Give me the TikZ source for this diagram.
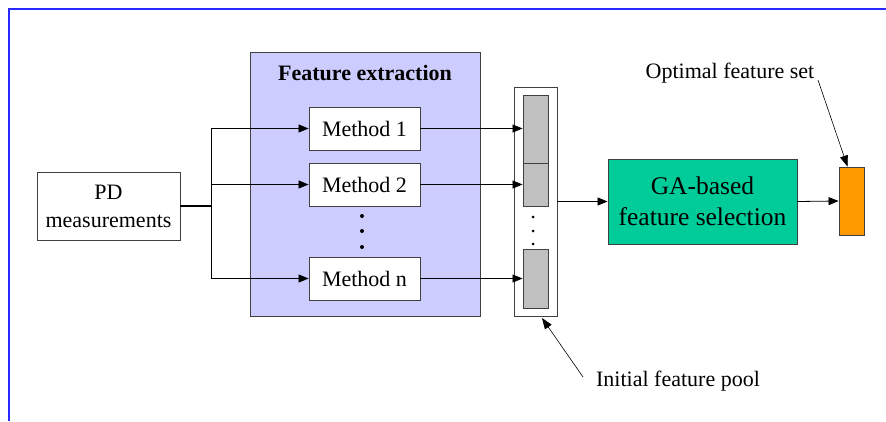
\documentclass[tikz,border=0pt]{standalone}
\usepackage{fontspec}
\setmainfont{Liberation Serif}
\usepackage{tikz}
\usetikzlibrary{arrows.meta}

\definecolor{extractfill}{RGB}{204,204,255}
\definecolor{poolgray}{RGB}{192,192,192}
\definecolor{gagreen}{RGB}{0,204,153}
\definecolor{optorange}{RGB}{255,153,0}
\definecolor{frameblue}{RGB}{40,40,255}

\tikzset{
	box/.style={draw=black!75,line width=0.9pt,inner sep=0pt,align=center},
	methodbox/.style={box,fill=white,minimum width=111pt,minimum height=43pt},
	featbar/.style={box,fill=poolgray,minimum width=25pt},
	link/.style={line width=0.8pt,-{Triangle[length=10pt,width=8pt]}},
	callout/.style={line width=0.6pt,-{Triangle[length=11pt,width=8pt]}},
	pt/.style={circle,fill=black,inner sep=0pt,minimum size=#1}
}

\begin{document}
\begin{tikzpicture}[x=1pt,y=-1pt,font=\fontsize{22}{28}\selectfont]
	\useasboundingbox (0,0) rectangle (886,421);
	\draw[frameblue,line width=2.5pt] (9,421) -- (9,9) -- (886,9);

	\node[box,fill=white,minimum width=143pt,minimum height=68pt] (pd) at (108.5,206) {PD\\measurements};

	\node[box,fill=extractfill,minimum width=230pt,minimum height=264pt] (fe) at (365,184) {};
	\node[font=\fontsize{22}{28}\selectfont\bfseries] (fetitle) at (365,73) {Feature extraction};
	\node[methodbox] (m1) at (364.5,128.5) {Method 1};
	\node[methodbox] (m2) at (364.5,184.5) {Method 2};
	\node[methodbox] (mn) at (364.5,278.5) {Method n};
	\foreach \y in {216,231,247}
		\node[pt=4pt] at (362,\y) {};

	\node[box,fill=white,minimum width=43pt,minimum height=229pt] (pool) at (535.5,201.5) {};
	\node[featbar,minimum height=68pt] (r1) at (535.5,129) {};
	\node[featbar,minimum height=43pt] (r2) at (535.5,184.5) {};
	\node[featbar,minimum height=59pt] (r3) at (535.5,278.5) {};
	\foreach \y in {217,231,244}
		\node[pt=3pt] at (533,\y) {};

	\node[box,fill=gagreen,minimum width=189pt,minimum height=85pt,font=\fontsize{25.5}{31}\selectfont] (ga) at (702.5,201.5) {GA-based\\feature selection};
	\node[box,fill=optorange,minimum width=25pt,minimum height=68pt] (opt) at (851.5,201) {};

	\coordinate (split) at (211,206);
	\draw[line width=2.5pt] (pd.east |- split) -- (split);
	\draw[line width=0.8pt] (split |- m1) -- (split |- mn);
	\foreach \m in {m1,m2,mn}
		\draw[link] (split |- \m) -- (\m.west);
	\draw[link] (m1.east) -- (m1.east -| r1.west);
	\draw[link] (m2.east) -- (m2.east -| r2.west);
	\draw[link] (mn.east) -- (mn.east -| r3.west);
	\draw[link] (pool.east) -- (ga.west);
	\draw[link] (ga.east) -- (opt.west);

	\node (optlabel) at (730,73) {Optimal feature set};
	\coordinate (optfrom) at (818,80);
	\draw[callout] (optfrom) -- ([xshift=-4pt]opt.north);
	\node (poollabel) at (678,381) {Initial feature pool};
	\coordinate (poolfrom) at (583,377);
	\draw[callout] (poolfrom) -- (542,318);
\end{tikzpicture}
\end{document}
